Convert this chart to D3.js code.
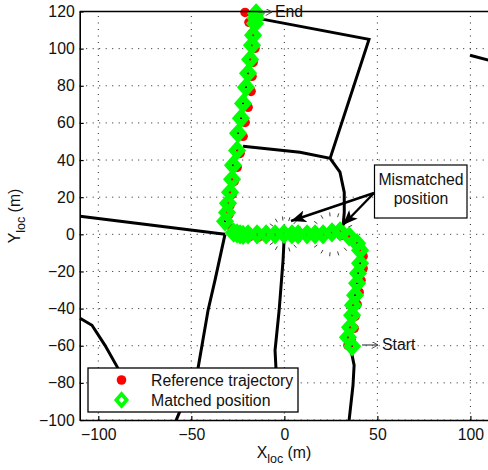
<!DOCTYPE html>
<html><head><meta charset="utf-8">
<script src="https://cdn.jsdelivr.net/npm/d3@7"></script>
<style>html,body{margin:0;padding:0;background:#fff;overflow:hidden}text{font-family:"Liberation Sans",Arial,sans-serif;fill:#111}</style>
</head><body><div id="c"></div>
<script>
const xTicks=[-100,-50,0,50,100];
const yTicks=[-100,-80,-60,-40,-20,0,20,40,60,80,100,120];
const roads=[
 [[-14.1,116.3],[45.5,105],[24.6,40.9]],
 [[-22.2,47.4],[8.4,44.2],[24.6,40.9],[29.9,33.5],[32.2,22.6],[32.2,11.8],[31.6,4.8]],
 [[-109.8,9.7],[-31.9,0]],
 [[-31.9,0],[-37.3,-24.8],[-41,-40.9],[-46.4,-72.2],[-58.2,-100.2]],
 [[0,0],[-0.7,-14],[-2.8,-40.9],[-5,-62.5],[-4.5,-72.2]],
 [[35.3,-59.8],[37.5,-70.5],[36.9,-81.3],[34.8,-100.2]],
 [[-109.8,-45.2],[-103.4,-49],[-96.4,-59.8],[-89.4,-72.2]],
 [[99.8,96.4],[110,93.7]]
];
const refX=[34.2,35.9,37.5,38,39.1,40.2,41.2,42.3,42.3,39.6,35.3,30.5,25.6,20.8,16.5,12.2,7.4,4.1,-0.2,-5,-9.8,-14.1,-18.4,-23.3,-28.1,-29.7,-29.2,-28.1,-27,-25.4,-23.8,-22.2,-21.1,-19.5,-17.9,-17.4,-16.8,-15.8,-17.4,-19,-21.1];
const refY=[-59.8,-57.1,-50.6,-44.2,-37.7,-31.2,-24.8,-18.3,-11.8,-7,-2.7,-0.5,0,0,0,0,0,0,0,-1.1,-1.6,-1.6,-1.1,-0.5,3.2,10.8,15.6,21.5,28.5,36.1,43.6,52.8,60.3,68.4,77,85.1,92.6,100.2,108.2,114.2,119.5];
const matchX=[36.4,34.2,35.3,36.4,36.9,38,39.1,39.6,40.7,40.7,39.1,34.8,29.9,25.6,20.8,16.5,12.2,7.4,4.1,-0.2,-5,-9.8,-14.7,-19.5,-22.2,-23.8,-25.4,-27.2,-31.9,-30.8,-30.3,-29.2,-28.1,-27.6,-25.4,-24.9,-23.3,-22.2,-20.6,-19.5,-18.4,-17.4,-16.8,-15.8,-15.4,-15.2];
const matchY=[-60.3,-55.5,-50.1,-43.6,-38.2,-32.8,-26.4,-21,-15.6,-8.6,-4.8,-1.1,1.6,1.1,0,0,0,0,0,0.2,0,0,0,0,-0.3,0,0.5,0.9,7,11.8,16.7,22.6,29.6,37.2,45.2,54.4,62.5,70.5,79.2,86.7,94.2,101.8,107.2,113.6,116.4,119];
const mismatchX=[0,25.6];
const mismatchY=[0,0];
const mismatchR=[7.5,9.7];
const legendLabels=["Reference trajectory","Matched position"];

const W=488,H=470,FS=15.8;
const x=d3.scaleLinear().domain([-110,110]).range([79.7,489]);
const y=d3.scaleLinear().domain([-100,120]).range([420,11.5]);
const svg=d3.select("#c").append("svg").attr("width",W).attr("height",H).style("display","block");
const minus=d=>String(d).replace("-","\u2212");

// grid
const grid=svg.append("g").attr("stroke","#222").attr("stroke-width",1).attr("stroke-dasharray","1 5.5");
grid.selectAll(".gx").data(xTicks).join("line").attr("x1",d=>x(d)).attr("x2",d=>x(d)).attr("y1",y(-100)).attr("y2",y(120));
grid.selectAll(".gy").data(yTicks).join("line").attr("y1",d=>y(d)).attr("y2",d=>y(d)).attr("x1",x(-110)).attr("x2",x(110));

// roads
const line=d3.line().x(d=>x(d[0])).y(d=>y(d[1]));
svg.append("g").selectAll("path").data(roads).join("path").attr("d",line).attr("fill","none").attr("stroke","#000").attr("stroke-width",3);

// mismatch rings (radial dashes)
const ring=svg.append("g").attr("stroke","#111").attr("stroke-width",0.8);
mismatchX.forEach((mx,i)=>{
  const r=(x(mismatchR[i])-x(0));
  d3.range(0,360,24).forEach(a=>{
    const t=a*Math.PI/180;
    ring.append("line")
      .attr("x1",x(mx)+Math.cos(t)*r).attr("y1",y(mismatchY[i])+Math.sin(t)*r)
      .attr("x2",x(mx)+Math.cos(t)*(r+4)).attr("y2",y(mismatchY[i])+Math.sin(t)*(r+4));
  });
});

// markers
const diamond="M0,-5.8 L5.2,0 L0,5.8 L-5.2,0 Z";
svg.append("g").selectAll("circle").data(matchX).join("circle")
  .attr("cx",d=>x(d)).attr("cy",(d,i)=>y(matchY[i])).attr("r",1.2).attr("fill","#000");
svg.append("g").selectAll("circle").data(refX).join("circle")
  .attr("cx",d=>x(d)).attr("cy",(d,i)=>y(refY[i])).attr("r",4.8).attr("fill","#ff0000");
svg.append("g").selectAll("path").data(matchX).join("path")
  .attr("transform",(d,i)=>`translate(${x(d)},${y(matchY[i])})`)
  .attr("d",diamond).attr("fill","none").attr("stroke","#00ff00").attr("stroke-width",5.8);

// axes
const gx=svg.append("g").attr("transform",`translate(0,${y(-100)})`).call(d3.axisBottom(x).tickValues(xTicks).tickSizeInner(-4).tickSizeOuter(0).tickPadding(9).tickFormat(minus));
const gy=svg.append("g").attr("transform",`translate(${x(-110)},0)`).call(d3.axisLeft(y).tickValues(yTicks).tickSizeInner(-4).tickSizeOuter(0).tickPadding(5).tickFormat(minus));
[gx,gy].forEach(g=>{g.selectAll("text").attr("font-size",FS).attr("font-family",'"Liberation Sans"').attr("fill","#111");
 g.selectAll("line").attr("stroke","#000").attr("stroke-width",1.2);
 g.select(".domain").attr("stroke","#000").attr("stroke-width",1.6);});
svg.append("line").attr("x1",x(-110)).attr("x2",x(110)).attr("y1",y(120)).attr("y2",y(120)).attr("stroke","#000").attr("stroke-width",1.4);

// axis titles
const xl=svg.append("text").attr("x",284).attr("y",458).attr("text-anchor","middle").attr("font-size",FS);
xl.append("tspan").text("X");xl.append("tspan").attr("font-size",12.5).attr("dy",5).text("loc");xl.append("tspan").attr("dy",-5).text(" (m)");
const yl=svg.append("text").attr("transform","translate(20,216) rotate(-90)").attr("text-anchor","middle").attr("font-size",FS);
yl.append("tspan").text("Y");yl.append("tspan").attr("font-size",12.5).attr("dy",5).text("loc");yl.append("tspan").attr("dy",-5).text(" (m)");

// legend
const lg=svg.append("g");
lg.append("rect").attr("x",88).attr("y",368).attr("width",210).attr("height",44).attr("fill","#fff").attr("stroke","#000").attr("stroke-width",1.3);
lg.append("circle").attr("cx",121.5).attr("cy",380).attr("r",4.8).attr("fill","#ff0000");
lg.append("path").attr("transform","translate(121.5,400)").attr("d","M0,-6 L5.2,0 L0,6 L-5.2,0 Z").attr("fill","none").attr("stroke","#00ff00").attr("stroke-width",3.6);
legendLabels.forEach((t,i)=>lg.append("text").attr("x",151).attr("y",386+i*20).attr("font-size",FS).text(t));

// annotations
const defs=svg.append("defs");
defs.append("marker").attr("id","big").attr("viewBox","0 0 10 8").attr("refX",10).attr("refY",4).attr("markerWidth",15).attr("markerHeight",12).attr("markerUnits","userSpaceOnUse").attr("orient","auto")
 .append("path").attr("d","M0,0 L10,4 L0,8 L2.5,4 Z").attr("fill","#000");
defs.append("marker").attr("id","small").attr("viewBox","0 0 10 10").attr("refX",10).attr("refY",5).attr("markerWidth",7).attr("markerHeight",7).attr("markerUnits","userSpaceOnUse").attr("orient","auto")
 .append("path").attr("d","M1,0 L10,5 L1,10").attr("fill","none").attr("stroke","#333").attr("stroke-width",1.2);
[[374,193,291,221],[374,193,343,225]].forEach(a=>svg.append("line").attr("x1",a[0]).attr("y1",a[1]).attr("x2",a[2]).attr("y2",a[3]).attr("stroke","#000").attr("stroke-width",2.4).attr("marker-end","url(#big)"));
svg.append("rect").attr("x",374.5).attr("y",165).attr("width",92.5).attr("height",53).attr("fill","#fff").attr("stroke","#000").attr("stroke-width",1.2);
svg.append("text").attr("x",421).attr("y",185).attr("text-anchor","middle").attr("font-size",FS).text("Mismatched");
svg.append("text").attr("x",421).attr("y",204).attr("text-anchor","middle").attr("font-size",FS).text("position");
[[258,12,272,12],[362,345,378,345]].forEach(a=>svg.append("line").attr("x1",a[0]).attr("y1",a[1]).attr("x2",a[2]).attr("y2",a[3]).attr("stroke","#333").attr("stroke-width",1.1).attr("marker-end","url(#small)"));
svg.append("text").attr("x",275).attr("y",17).attr("font-size",FS).text("End");
svg.append("text").attr("x",382).attr("y",350).attr("font-size",FS).text("Start");
</script></body></html>
